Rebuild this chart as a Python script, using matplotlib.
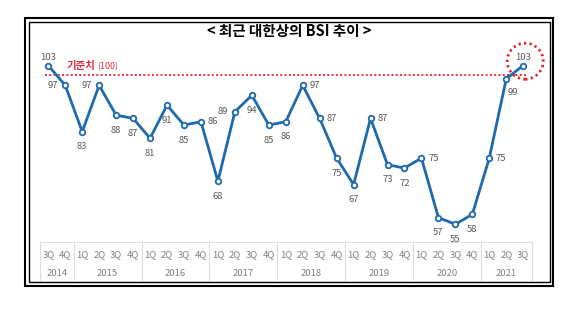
import matplotlib.pyplot as plt
from matplotlib.patches import Rectangle, Ellipse

plt.rcParams['font.family'] = ['Noto Sans CJK KR', 'DejaVu Sans']

# data
quarters = ['3Q', '4Q'] + ['1Q', '2Q', '3Q', '4Q'] * 6 + ['1Q', '2Q', '3Q']
years = ['2014', '2015', '2016', '2017', '2018', '2019', '2020', '2021']
year_counts = [2, 4, 4, 4, 4, 4, 4, 3]
bsi = [103, 97, 83, 97, 88, 87, 81, 91, 85, 86, 68, 89, 94, 85, 86, 97,
       87, 75, 67, 87, 73, 72, 75, 57, 55, 58, 75, 99, 103]
base = 100
# where each value label sits: a=above, b=below, l=left, r=right
lab_pos = ['a', 'l', 'b', 'l', 'b', 'b', 'b', 'b', 'b', 'r', 'b', 'l', 'b', 'b', 'b', 'r',
           'r', 'b', 'b', 'r', 'b', 'b', 'r', 'b', 'b', 'b', 'r', 'br', 'a']

W, H = 579, 329
fig = plt.figure(figsize=(W / 100, H / 100), dpi=100)

def fx(px):
    return px / W

def fy(py):
    return 1 - py / H

n = len(bsi)
left, right = 39.8, 531.7
ax = fig.add_axes([fx(left), fy(241.7), fx(right - left), fy(40) - fy(241.7)])
ax.set_xlim(-0.5, n - 0.5)
ax.set_ylim(49.73, 110.71)
ax.axis('off')

blue = '#1F69AD'
x = list(range(n))
ax.plot([-0.2, n - 0.8], [base, base], color='#E8303C', lw=1.4, ls=(0, (1, 1.2)), zorder=1)
ax.plot(x, bsi, color=blue, lw=2.0, marker='o', ms=4.0, mfc='white', mec=blue, mew=1.3, zorder=3)

offs = {'a': (0, 8), 'b': (0, -15), 'l': (-12, 0), 'r': (12, 0), 'br': (7, -14)}
for i, v in enumerate(bsi):
    dx, dy = offs[lab_pos[i]]
    ax.annotate(str(v), (i, v), xytext=(dx, dy), textcoords='offset pixels',
                ha='center', va='center', fontsize=6.8, color='#595959')

ax.text(-0.5 + (67 - left) / 16.96, base + (75.5 - 66) / 3.308, '기준치', color='#E0303A',
        fontsize=7.5, fontweight='bold', ha='left', va='center')
ax.text(-0.5 + (97.5 - left) / 16.96, base + (75.5 - 67) / 3.308, '(100)', color='#E0303A',
        fontsize=6.4, ha='left', va='center')

# dotted circle around the last point
ax.add_patch(Ellipse((n - 1 + 0.12, 104.3), 36 / 16.96, 36 / 3.308, fill=False,
                     ec='#D8262F', lw=2.0, ls=(0, (0.8, 1.2)), clip_on=False, zorder=4))

# category table
tb = fig.add_axes([fx(left), fy(282.3), fx(right - left), fy(241.7) - fy(282.3)])
tb.set_xlim(-0.5, n - 0.5)
tb.set_ylim(0, 1)
tb.axis('off')
grid = '#DDDDDD'
tb.plot([-0.5, n - 0.5], [1, 1], color=grid, lw=0.8, clip_on=False)
for i, q in enumerate(quarters):
    tb.text(i, 0.69, q, ha='center', va='center', fontsize=6.8, color='#7F7F7F')
start = 0
for y, c in zip(years, year_counts):
    tb.plot([start - 0.5, start - 0.5], [0.06, 1], color=grid, lw=0.8, clip_on=False)
    tb.text(start + (c - 1) / 2, 0.22, y, ha='center', va='center', fontsize=6.8, color='#7F7F7F')
    start += c
tb.plot([start - 0.5, start - 0.5], [0.06, 1], color=grid, lw=0.8, clip_on=False)

fig.text(0.5, fy(31), '< 최근 대한상의 BSI 추이 >', ha='center', va='center',
         fontsize=10.5, fontweight='bold', color='black')

# double frame
fig.patches.append(Rectangle((fx(25.3), fy(285.7)), fx(553.3 - 25.3), fy(18.3) - fy(285.7),
                             transform=fig.transFigure, fill=False, ec='black', lw=1.5))
fig.patches.append(Rectangle((fx(28.7), fy(282.3)), fx(550 - 28.7), fy(21.7) - fy(282.3),
                             transform=fig.transFigure, fill=False, ec='black', lw=1.0))

fig.savefig('out.png', dpi=100)
